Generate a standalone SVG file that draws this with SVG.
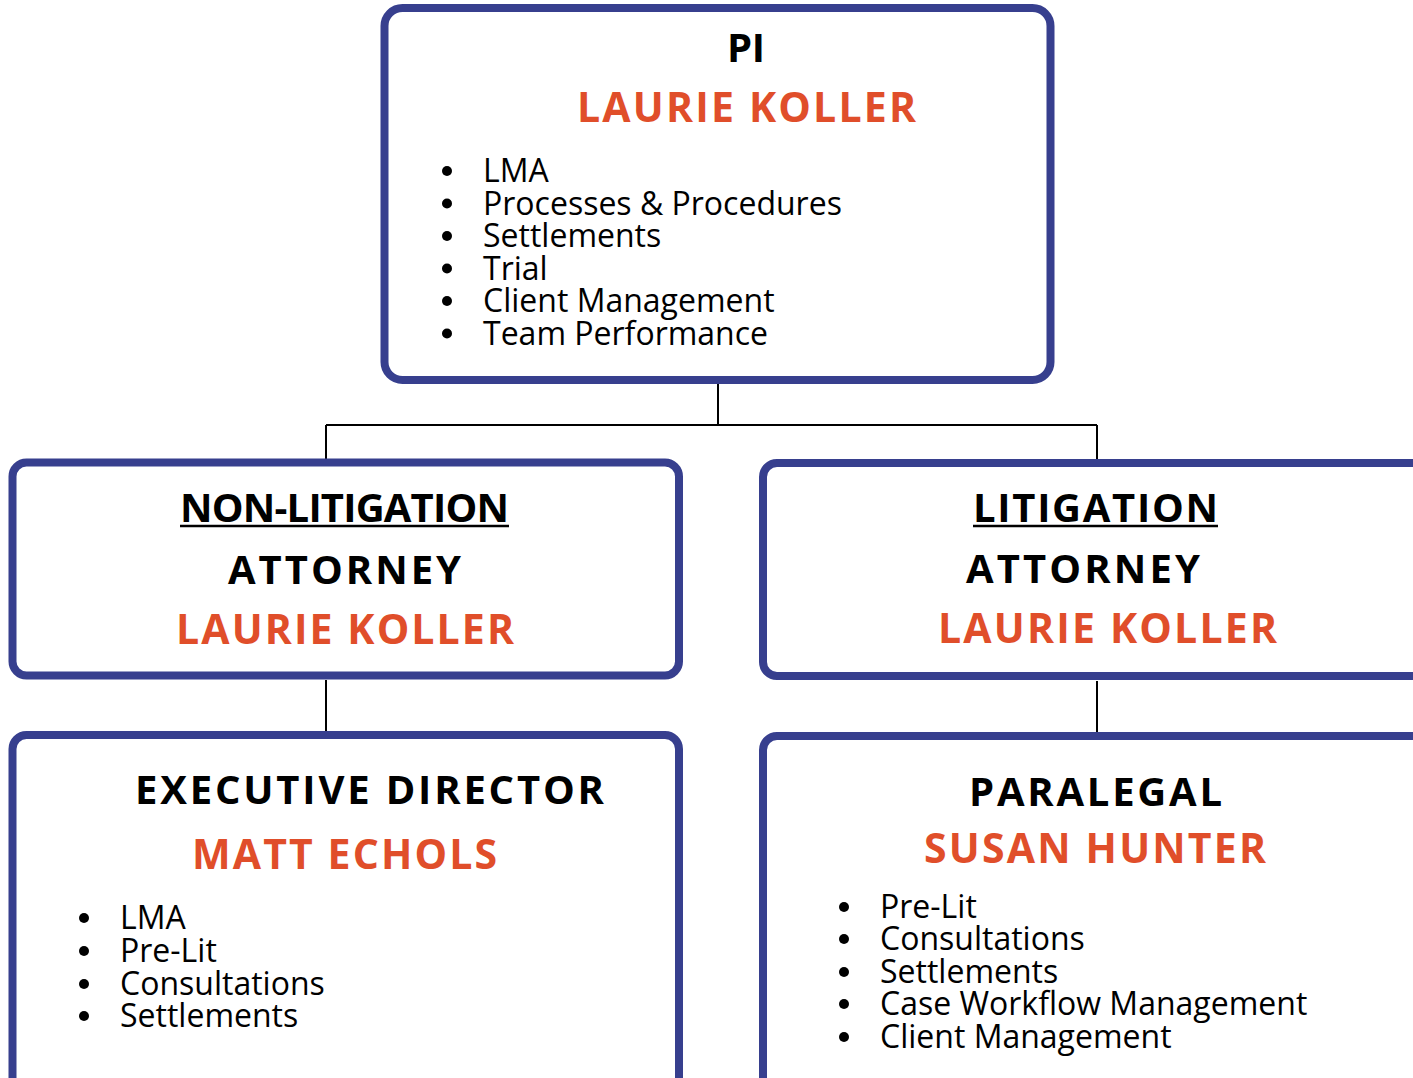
<svg xmlns="http://www.w3.org/2000/svg" width="1413" height="1078" viewBox="0 0 1413 1078">
<style>
.box{fill:#fff;stroke:#373F8E;stroke-width:8}
.conn{stroke:#000;stroke-width:2;fill:none}
.t{font-family:"Open Sans","Noto Sans",sans-serif;font-weight:700;font-size:40px;fill:#000;text-anchor:middle}
.n{font-family:"Open Sans","Noto Sans",sans-serif;font-weight:700;font-size:41px;fill:#E04E2A;text-anchor:middle}
.b{font-family:"Open Sans","Noto Sans",sans-serif;font-weight:400;font-size:32px;fill:#000}
.ul{stroke:#000;stroke-width:2.5}
</style>
<rect width="1413" height="1078" fill="#fff"/>
<g id="connectors">
<path class="conn" d="M718 384 V425 M326 425 H1097 M326 425 V459 M1097 425 V460"/>
<path class="conn" d="M326 680 V731"/>
<path class="conn" d="M1097 681 V732"/>
</g>
<g id="pi">
<rect class="box" x="384.5" y="8" width="666" height="372" rx="18"/>
<text class="t" x="746" y="62" font-size="34" textLength="38" lengthAdjust="spacing">PI</text>
<text class="n" x="746.5" y="122" textLength="339" lengthAdjust="spacing">LAURIE KOLLER</text>
<g fill="#000"><circle cx="447" cy="171" r="5"/><circle cx="447" cy="203.5" r="5"/><circle cx="447" cy="236" r="5"/><circle cx="447" cy="268.5" r="5"/><circle cx="447" cy="301" r="5"/><circle cx="447" cy="333.5" r="5"/></g>
<text class="b" x="483" y="182">LMA</text>
<text class="b" x="483" y="214.5">Processes &amp; Procedures</text>
<text class="b" x="483" y="247">Settlements</text>
<text class="b" x="483" y="279.5">Trial</text>
<text class="b" x="483" y="312">Client Management</text>
<text class="b" x="483" y="344.5">Team Performance</text>
</g>
<g id="nonlit">
<rect class="box" x="12.5" y="462.5" width="666.5" height="213" rx="14"/>
<text class="t" x="344.5" y="522" font-size="34" textLength="329" lengthAdjust="spacing">NON-LITIGATION</text>
<line class="ul" x1="180" y1="526" x2="509" y2="526"/>
<text class="t" x="344.5" y="584" textLength="233" lengthAdjust="spacing">ATTORNEY</text>
<text class="n" x="345" y="644" textLength="338" lengthAdjust="spacing">LAURIE KOLLER</text>
</g>
<g id="lit">
<rect class="box" x="763" y="463" width="720" height="213" rx="14"/>
<text class="t" x="1095.5" y="522" font-size="35" textLength="245" lengthAdjust="spacing">LITIGATION</text>
<line class="ul" x1="973" y1="526" x2="1218" y2="526"/>
<text class="t" x="1083" y="583" textLength="234" lengthAdjust="spacing">ATTORNEY</text>
<text class="n" x="1107.5" y="643" textLength="339" lengthAdjust="spacing">LAURIE KOLLER</text>
</g>
<g id="exec">
<rect class="box" x="12.5" y="735" width="666.5" height="400" rx="14"/>
<text class="t" x="369.5" y="804" textLength="469" lengthAdjust="spacing">EXECUTIVE DIRECTOR</text>
<text class="n" x="344.5" y="869" textLength="305" lengthAdjust="spacing">MATT ECHOLS</text>
<g fill="#000"><circle cx="84" cy="918" r="5"/><circle cx="84" cy="951" r="5"/><circle cx="84" cy="984" r="5"/><circle cx="84" cy="1016" r="5"/></g>
<text class="b" x="120" y="929">LMA</text>
<text class="b" x="120" y="962">Pre-Lit</text>
<text class="b" x="120" y="995">Consultations</text>
<text class="b" x="120" y="1027">Settlements</text>
</g>
<g id="paralegal">
<rect class="box" x="763" y="736" width="720" height="400" rx="14"/>
<text class="t" x="1095.5" y="806" textLength="253" lengthAdjust="spacing">PARALEGAL</text>
<text class="n" x="1095" y="863" textLength="342" lengthAdjust="spacing">SUSAN HUNTER</text>
<g fill="#000"><circle cx="844" cy="907" r="5"/><circle cx="844" cy="939" r="5"/><circle cx="844" cy="972" r="5"/><circle cx="844" cy="1004" r="5"/><circle cx="844" cy="1037" r="5"/></g>
<text class="b" x="880" y="918">Pre-Lit</text>
<text class="b" x="880" y="950">Consultations</text>
<text class="b" x="880" y="983">Settlements</text>
<text class="b" x="880" y="1015">Case Workflow Management</text>
<text class="b" x="880" y="1048">Client Management</text>
</g>
</svg>
